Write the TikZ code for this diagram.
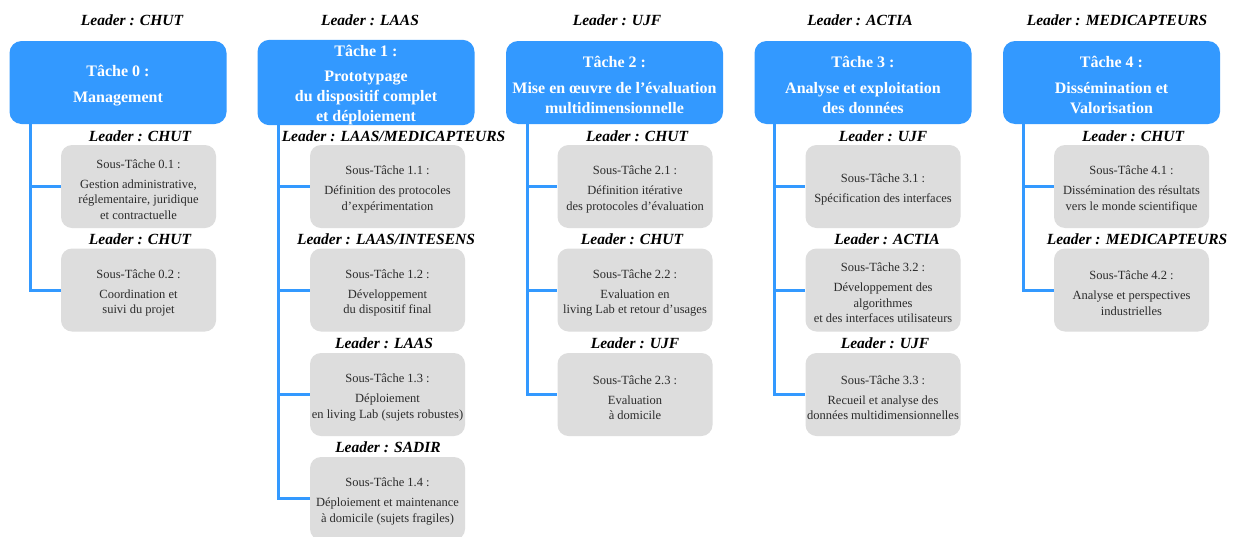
\documentclass[tikz,border=0pt]{standalone}
\usepackage{fontspec}
\setmainfont{Liberation Serif}
\definecolor{taskblue}{HTML}{3399FF}
\definecolor{subgray}{HTML}{DDDDDD}
\definecolor{subtext}{HTML}{2B2B2B}
\newcommand{\tstrut}{\rule{0pt}{17pt}}
\newcommand{\sstrut}{\rule{0pt}{15pt}}
\begin{document}
\begin{tikzpicture}[x=1pt,y=-1pt,
  task/.style={fill=taskblue, rounded corners=12pt, minimum width=217pt, minimum height=83pt,
    inner sep=0pt, align=center, text=white, font=\fontsize{16}{20}\selectfont\bfseries},
  sub/.style={fill=subgray, rounded corners=11pt, minimum width=155pt, minimum height=83pt,
    inner sep=0pt, align=center, text=subtext, font=\fontsize{12.5}{15.5}\selectfont},
  lead/.style={font=\fontsize{15.5}{18}\selectfont\bfseries\itshape, inner sep=0pt, anchor=base},
  conn/.style={draw=taskblue, line width=3pt, line join=miter},
]
\useasboundingbox[fill=white] (0,0) rectangle (1238,536);

% top leaders
\node[lead] (l0) at (132,25.5) {Leader : CHUT};
\node[lead] (l1) at (370,25.5) {Leader : LAAS};
\node[lead] (l2) at (617,25.5) {Leader : UJF};
\node[lead] (l3) at (860,25.5) {Leader : ACTIA};
\node[lead] (l4) at (1117,25.5) {Leader : MEDICAPTEURS};

% connector columns
\coordinate (v0) at (30,0);
\coordinate (v1) at (278,0);
\coordinate (v2) at (527,0);
\coordinate (v3) at (774,0);
\coordinate (v4) at (1023,0);

% main tasks
\node[task] (t0) at (118,82.5) {\tstrut Tâche 0 :\\[6pt]Management};
\node[task] (t1) at (366,82.5) {\tstrut Tâche 1 :\\[5pt]Prototypage\\du dispositif complet\\et déploiement};
\node[task] (t2) at (614.5,82.5) {\tstrut Tâche 2 :\\[6pt]Mise en œuvre de l’évaluation\\multidimensionnelle};
\node[task] (t3) at (863,82.5) {\tstrut Tâche 3 :\\[6pt]Analyse et exploitation\\des données};
\node[task] (t4) at (1111.5,82.5) {\tstrut Tâche 4 :\\[6pt]Dissémination et\\Valorisation};

% column 0
\node[lead] (l01) at (140,141) {Leader : CHUT};
\node[sub] (s01) at (138.5,186.5) {\sstrut Sous-Tâche 0.1 :\\[4.5pt]Gestion administrative,\\réglementaire, juridique\\et contractuelle};
\node[lead] (l02) at (140,244) {Leader : CHUT};
\node[sub] (s02) at (138.5,290) {\sstrut Sous-Tâche 0.2 :\\[4.5pt]Coordination et\\suivi du projet};

% column 1
\node[lead] (l11) at (393.5,141) {Leader : LAAS/MEDICAPTEURS};
\node[sub] (s11) at (387.5,186.5) {\sstrut Sous-Tâche 1.1 :\\[4.5pt]Définition des protocoles\\d’expérimentation};
\node[lead] (l12) at (386,244) {Leader : LAAS/INTESENS};
\node[sub] (s12) at (387.5,290) {\sstrut Sous-Tâche 1.2 :\\[4.5pt]Développement\\du dispositif final};
\node[lead] (l13) at (384,348) {Leader : LAAS};
\node[sub] (s13) at (387.5,394.5) {\sstrut Sous-Tâche 1.3 :\\[4.5pt]Déploiement\\en living Lab (sujets robustes)};
\node[lead] (l14) at (388,452) {Leader : SADIR};
\node[sub] (s14) at (387.5,498.5) {\sstrut Sous-Tâche 1.4 :\\[4.5pt]Déploiement et maintenance\\à domicile (sujets fragiles)};

% column 2
\node[lead] (l21) at (637,141) {Leader : CHUT};
\node[sub] (s21) at (635,186.5) {\sstrut Sous-Tâche 2.1 :\\[4.5pt]Définition itérative\\des protocoles d’évaluation};
\node[lead] (l22) at (632,244) {Leader : CHUT};
\node[sub] (s22) at (635,290) {\sstrut Sous-Tâche 2.2 :\\[4.5pt]Evaluation en\\living Lab et retour d’usages};
\node[lead] (l23) at (635,348) {Leader : UJF};
\node[sub] (s23) at (635,394.5) {\sstrut Sous-Tâche 2.3 :\\[4.5pt]Evaluation\\à domicile};

% column 3
\node[lead] (l31) at (883,141) {Leader : UJF};
\node[sub] (s31) at (883,186.5) {\sstrut Sous-Tâche 3.1 :\\[4.5pt]Spécification des interfaces};
\node[lead] (l32) at (887,244) {Leader : ACTIA};
\node[sub] (s32) at (883,290) {\sstrut Sous-Tâche 3.2 :\\[4.5pt]Développement des\\algorithmes\\et des interfaces utilisateurs};
\node[lead] (l33) at (885,348) {Leader : UJF};
\node[sub] (s33) at (883,394.5) {\sstrut Sous-Tâche 3.3 :\\[4.5pt]Recueil et analyse des\\données multidimensionnelles};

% column 4
\node[lead] (l41) at (1133,141) {Leader : CHUT};
\node[sub] (s41) at (1131.5,186.5) {\sstrut Sous-Tâche 4.1 :\\[4.5pt]Dissémination des résultats\\vers le monde scientifique};
\node[lead] (l42) at (1137,244) {Leader : MEDICAPTEURS};
\node[sub] (s42) at (1131.5,290) {\sstrut Sous-Tâche 4.2 :\\[4.5pt]Analyse et perspectives\\industrielles};

% connectors
\draw[conn] (t0.south -| v0) |- (s02.west);
\draw[conn] (t0.south -| v0) |- (s01.west);
\draw[conn] (t1.south -| v1) |- (s14.west);
\draw[conn] (t1.south -| v1) |- (s13.west);
\draw[conn] (t1.south -| v1) |- (s12.west);
\draw[conn] (t1.south -| v1) |- (s11.west);
\draw[conn] (t2.south -| v2) |- (s23.west);
\draw[conn] (t2.south -| v2) |- (s22.west);
\draw[conn] (t2.south -| v2) |- (s21.west);
\draw[conn] (t3.south -| v3) |- (s33.west);
\draw[conn] (t3.south -| v3) |- (s32.west);
\draw[conn] (t3.south -| v3) |- (s31.west);
\draw[conn] (t4.south -| v4) |- (s42.west);
\draw[conn] (t4.south -| v4) |- (s41.west);
\end{tikzpicture}
\end{document}
